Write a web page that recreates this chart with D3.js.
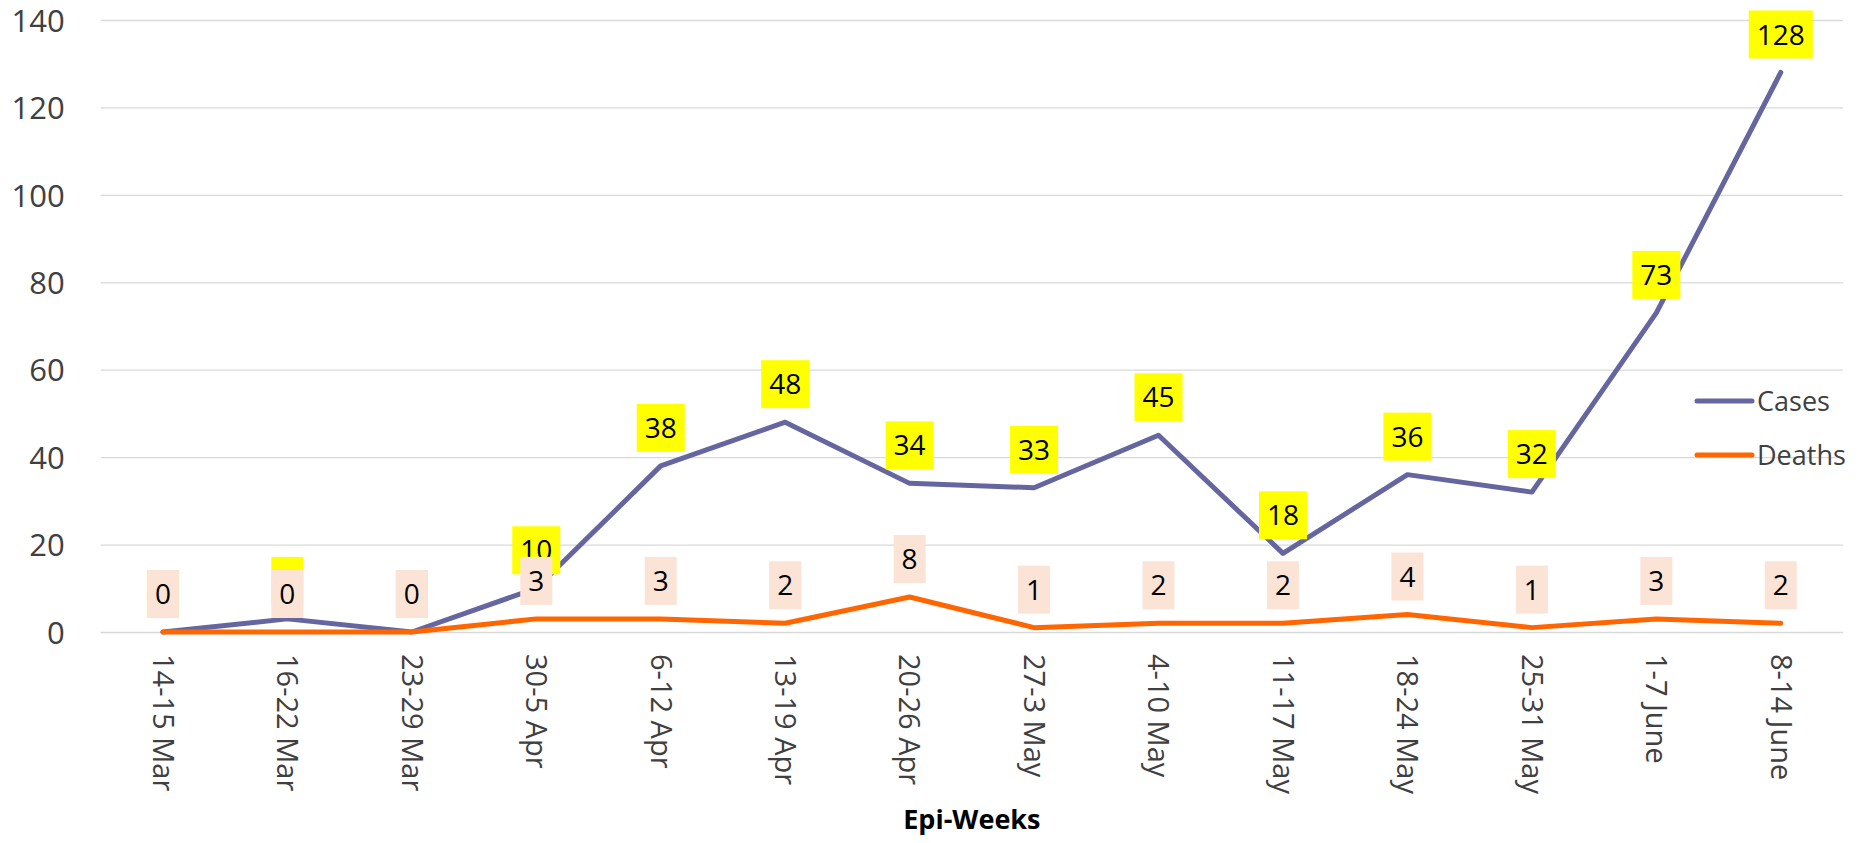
<!DOCTYPE html>
<html>
<head>
<meta charset="utf-8">
<script src="https://cdn.jsdelivr.net/npm/d3@7"></script>
<style>
  html, body { margin: 0; padding: 0; background: #fff; }
  svg { display: block; font-family: "Open Sans", "Noto Sans", sans-serif; }
</style>
</head>
<body>
<svg id="chart" width="1865" height="843"></svg>
<script>
const categories = ["14-15 Mar", "16-22 Mar", "23-29 Mar", "30-5 Apr", "6-12 Apr", "13-19 Apr", "20-26 Apr", "27-3 May", "4-10 May", "11-17 May", "18-24 May", "25-31 May", "1-7 June", "8-14 June"];
const cases = [0, 3, 0, 10, 38, 48, 34, 33, 45, 18, 36, 32, 73, 128];
const deaths = [0, 0, 0, 3, 3, 2, 8, 1, 2, 2, 4, 1, 3, 2];
const yTicks = [0, 20, 40, 60, 80, 100, 120, 140];
const seriesNames = ["Cases", "Deaths"];
const xTitle = "Epi-Weeks";

(function () {
const svg = d3.select("#chart");
const pLeft = 100.7, pRight = 1843, pTop = 20, pBottom = 632;

const x = d3.scaleBand().domain(categories).range([pLeft, pRight]).padding(0);
const y = d3.scaleLinear().domain([0, 140]).range([pBottom, pTop]);
const cx = d => x(d) + x.bandwidth() / 2;

// gridlines
const yAxis = d3.axisLeft(y).tickValues(yTicks).tickSize(-(pRight - pLeft)).tickPadding(36);
const gy = svg.append("g").attr("transform", `translate(${pLeft},0)`).call(yAxis);
gy.select(".domain").remove();
gy.selectAll(".tick line").attr("stroke", "#d9d9d9").attr("stroke-width", 1.3);
gy.selectAll(".tick text").attr("font-size", 31).attr("fill", "#404040")
  .attr("font-family", "'Open Sans', sans-serif").attr("dy", "0.36em");

// x axis labels
const xAxis = d3.axisBottom(x).tickSize(0).tickPadding(0);
const gx = svg.append("g").attr("transform", `translate(0,${pBottom})`).call(xAxis);
gx.select(".domain").remove();
gx.selectAll(".tick text")
  .attr("font-size", 29).attr("fill", "#404040")
  .attr("font-family", "'Open Sans', sans-serif")
  .attr("text-anchor", "start")
  .attr("dy", "0.35em")
  .attr("transform", "translate(0,22) rotate(90)")
  .attr("y", 0).attr("x", 0);

// axis title
svg.append("text").attr("x", (pLeft + pRight) / 2).attr("y", 829)
  .attr("text-anchor", "middle").attr("font-size", 27).attr("font-weight", "bold")
  .attr("fill", "#000").text(xTitle);

// lines
const colors = ["#65669f", "#ff6600"];
const series = [cases, deaths];
const line = d3.line().x((d, i) => cx(categories[i])).y(d => y(d));
series.forEach((s, k) => {
  svg.append("path").datum(s).attr("d", line).attr("fill", "none")
    .attr("stroke", colors[k]).attr("stroke-width", 5)
    .attr("stroke-linejoin", "round").attr("stroke-linecap", "round");
});

// data labels
const labelFill = ["#ffff00", "#fbe4d6"];
series.forEach((s, k) => {
  const g = svg.append("g");
  s.forEach((v, i) => {
    const px = cx(categories[i]), py = y(v) - 38;
    const lg = g.append("g");
    const rect = lg.append("rect").attr("fill", labelFill[k]);
    const t = lg.append("text").attr("x", px).attr("y", py).attr("dy", "0.36em")
      .attr("text-anchor", "middle").attr("font-size", 28).attr("fill", "#000").text(v);
    const w = t.node().getComputedTextLength() + 16;
    rect.attr("x", px - w / 2).attr("y", py - 24).attr("width", w).attr("height", 48);
  });
});

// legend
const legY = [401, 455];
seriesNames.forEach((n, k) => {
  svg.append("line").attr("x1", 1697).attr("x2", 1752).attr("y1", legY[k]).attr("y2", legY[k])
    .attr("stroke", colors[k]).attr("stroke-width", 5).attr("stroke-linecap", "round");
  svg.append("text").attr("x", 1757).attr("y", legY[k]).attr("dy", "0.36em")
    .attr("font-size", 27).attr("fill", "#404040").text(n);
});
})();
</script>
</body>
</html>
